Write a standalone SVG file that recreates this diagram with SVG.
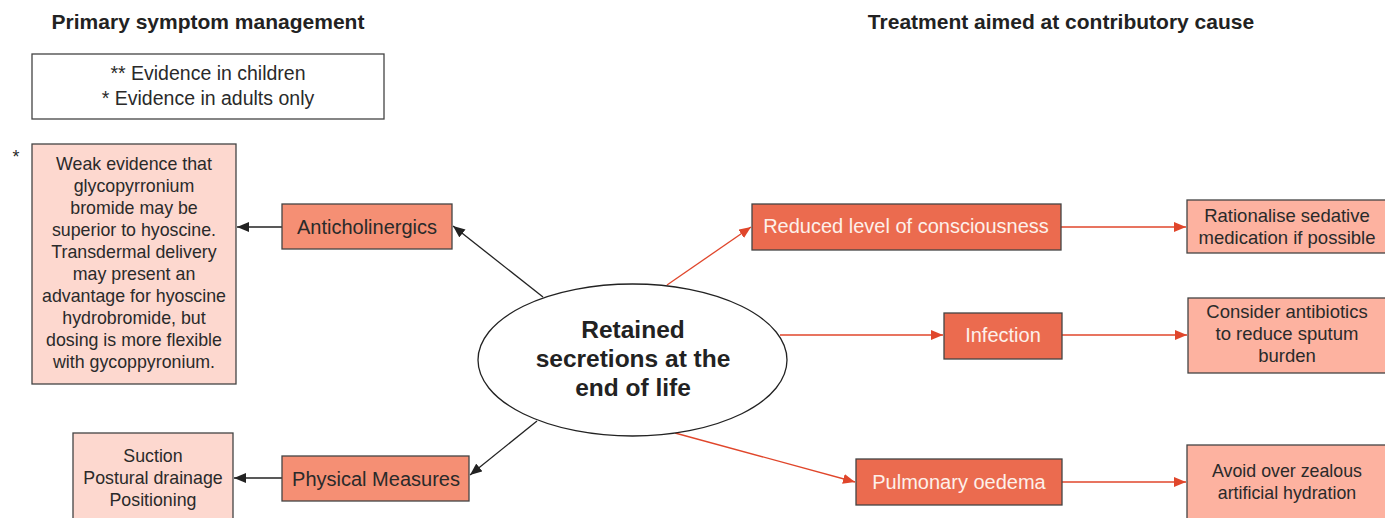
<svg xmlns="http://www.w3.org/2000/svg" width="1385" height="518" viewBox="0 0 1385 518">
<defs>
<marker id="ab" viewBox="0 0 12 10" refX="12" refY="5" markerWidth="12" markerHeight="10" markerUnits="userSpaceOnUse" orient="auto"><path d="M0,0 L12,5 L0,10 z" fill="#222"/></marker>
<marker id="ar" viewBox="0 0 12 10" refX="12" refY="5" markerWidth="12" markerHeight="10" markerUnits="userSpaceOnUse" orient="auto"><path d="M0,0 L12,5 L0,10 z" fill="#e0462b"/></marker>
</defs>
<style>
text{font-family:"Liberation Sans",Arial,sans-serif;fill:#2a2a2a;text-anchor:middle}
.h{font-weight:bold;font-size:21px;fill:#222}
.t{font-size:17.8px}
.lg{font-size:19.5px}
.e{font-size:18.5px}
.n{font-size:20px}
.w{font-size:20px;fill:#fdf0ea}
.box{stroke:#444;stroke-width:1.3}
.pale{fill:#fdd8cf}
.sal{fill:#f58f74}
.red{fill:#eb6b4f}
.end{fill:#fdb2a0}
.kb{stroke:#222;stroke-width:1.3;fill:none;marker-end:url(#ab)}
.kr{stroke:#e0462b;stroke-width:1.3;fill:none;marker-end:url(#ar)}
</style>
<rect width="1385" height="518" fill="#fff"/>
<text class="h" x="208" y="29">Primary symptom management</text>
<text class="h" x="1061" y="29">Treatment aimed at contributory cause</text>
<g id="legend">
<rect x="32" y="54" width="352" height="65" fill="#fff" class="box"/>
<text class="lg" x="208" y="80">** Evidence in children</text>
<text class="lg" x="208" y="105">* Evidence in adults only</text>
</g>
<g id="connectors">
<line class="kb" x1="282" y1="227" x2="237" y2="227"/>
<line class="kb" x1="543" y1="297" x2="453" y2="226"/>
<line class="kb" x1="282" y1="478" x2="234" y2="478"/>
<line class="kb" x1="537" y1="421" x2="470" y2="475"/>
<line class="kr" x1="667" y1="285" x2="751" y2="227"/>
<line class="kr" x1="1061" y1="227" x2="1186" y2="227"/>
<line class="kr" x1="780" y1="335" x2="943" y2="335"/>
<line class="kr" x1="1062" y1="335" x2="1187" y2="335"/>
<line class="kr" x1="675" y1="433" x2="855" y2="482"/>
<line class="kr" x1="1062" y1="482" x2="1186" y2="482"/>
</g>
<g id="center">
<ellipse cx="632.5" cy="360" rx="154.5" ry="76" fill="#fff" stroke="#222" stroke-width="1.3"/>
<text x="633" y="338" style="font-weight:bold;font-size:24.5px;fill:#222">Retained</text>
<text x="633" y="367" style="font-weight:bold;font-size:24.5px;fill:#222">secretions at the</text>
<text x="633" y="396" style="font-weight:bold;font-size:24.5px;fill:#222">end of life</text>
</g>
<g id="weak">
<text class="t" x="16" y="163">*</text>
<rect x="32" y="144" width="204" height="240" class="box pale"/>
<text class="t" x="134" y="170">Weak evidence that</text>
<text class="t" x="134" y="192">glycopyrronium</text>
<text class="t" x="134" y="214">bromide may be</text>
<text class="t" x="134" y="236">superior to hyoscine.</text>
<text class="t" x="134" y="258">Transdermal delivery</text>
<text class="t" x="134" y="280">may present an</text>
<text class="t" x="134" y="302">advantage for hyoscine</text>
<text class="t" x="134" y="324">hydrobromide, but</text>
<text class="t" x="134" y="346">dosing is more flexible</text>
<text class="t" x="134" y="368">with gycoppyronium.</text>
</g>
<g id="anticholinergics">
<rect x="282" y="204" width="170" height="45" class="box sal"/>
<text class="n" x="367" y="234">Anticholinergics</text>
</g>
<g id="suction">
<rect x="73" y="433" width="160" height="95" class="box pale"/>
<text class="t" x="153" y="462">Suction</text>
<text class="t" x="153" y="484">Postural drainage</text>
<text class="t" x="153" y="506">Positioning</text>
</g>
<g id="physical">
<rect x="282" y="456" width="187" height="45" class="box sal"/>
<text class="n" x="376" y="486">Physical Measures</text>
</g>
<g id="reduced">
<rect x="752" y="204" width="309" height="46" class="box red"/>
<text class="w" x="906" y="233">Reduced level of consciousness</text>
</g>
<g id="rationalise">
<rect x="1187" y="200" width="205" height="53" class="box end"/>
<text class="e" x="1287" y="222">Rationalise sedative</text>
<text class="e" x="1287" y="244">medication if possible</text>
</g>
<g id="infection">
<rect x="944" y="313" width="118" height="46" class="box red"/>
<text class="w" x="1003" y="342">Infection</text>
</g>
<g id="antibiotics">
<rect x="1188" y="298" width="204" height="75" class="box end"/>
<text class="e" x="1287" y="318">Consider antibiotics</text>
<text class="e" x="1287" y="340">to reduce sputum</text>
<text class="e" x="1287" y="362">burden</text>
</g>
<g id="pulmonary">
<rect x="856" y="459" width="206" height="46" class="box red"/>
<text class="w" x="959" y="489">Pulmonary oedema</text>
</g>
<g id="avoid">
<rect x="1187" y="445" width="205" height="80" class="box end"/>
<text class="t" x="1287" y="477">Avoid over zealous</text>
<text class="t" x="1287" y="499">artificial hydration</text>
</g>
</svg>
